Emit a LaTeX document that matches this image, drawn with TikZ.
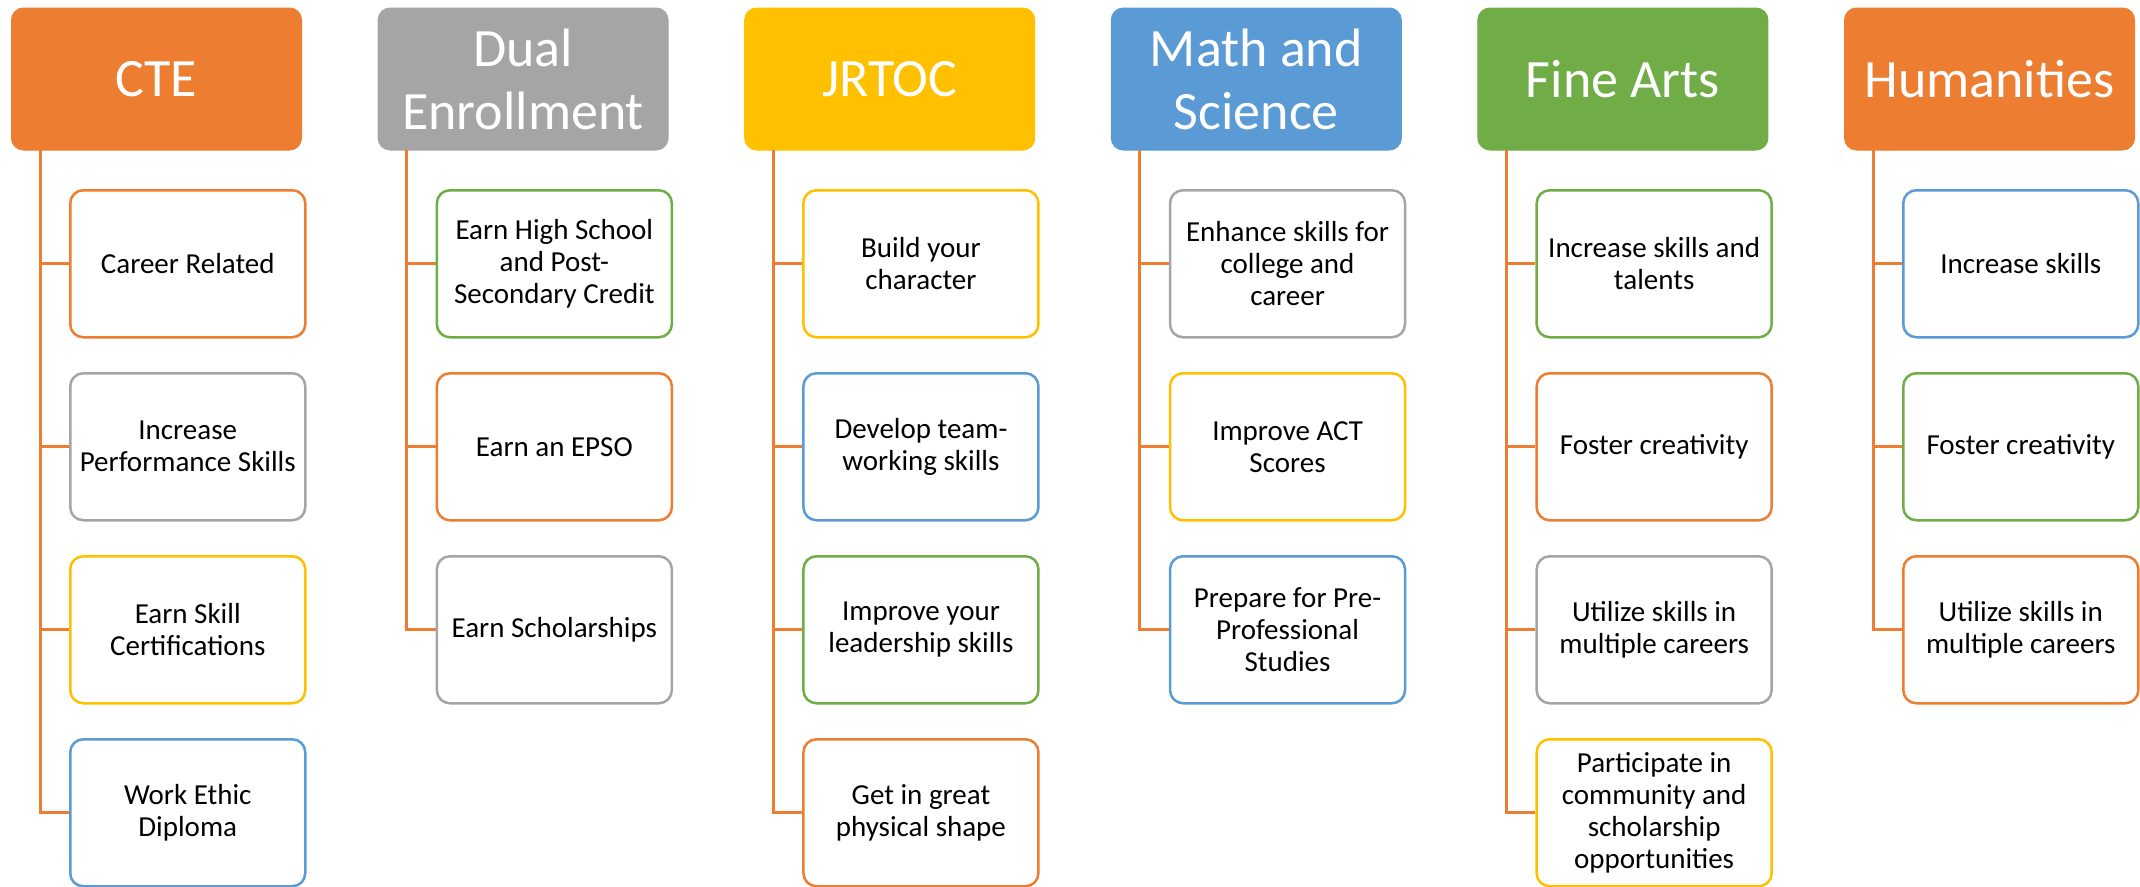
\documentclass[tikz,border=0pt]{standalone}
\usepackage{fontspec}
\setmainfont{Carlito}
\definecolor{corange}{HTML}{ED7D31}
\definecolor{cgray}{HTML}{A5A5A5}
\definecolor{cgold}{HTML}{FFC000}
\definecolor{cblue}{HTML}{5B9BD5}
\definecolor{cgreen}{HTML}{70AD47}
\begin{document}
\begin{tikzpicture}[x=1pt,y=-1pt,
  hdr/.style={fill=#1, draw=#1, line width=1pt, rounded corners=12pt, minimum width=290pt, minimum height=142pt, inner sep=0pt, anchor=north west, align=center, text=white, font=\fontsize{54}{63}\selectfont},
  item/.style={draw=#1, line width=2.5pt, fill=white, rounded corners=13pt, minimum width=235pt, minimum height=147pt, inner sep=0pt, anchor=north west, align=center, text=black, font=\fontsize{29}{32}\selectfont},
  conn/.style={draw=corange, line width=3pt}]
\useasboundingbox (0,0) rectangle (2140,886);

% headers
\node[hdr=corange] (h1) at (11,7.5) {CTE};
\node[hdr=cgray] (h2) at (377.6,7.5) {Dual\\Enrollment};
\node[hdr=cgold] (h3) at (744.2,7.5) {JRTOC};
\node[hdr=cblue] (h4) at (1110.8,7.5) {Math and\\Science};
\node[hdr=cgreen] (h5) at (1477.4,7.5) {Fine Arts};
\node[hdr=corange] (h6) at (1844,7.5) {Humanities};

% trunk start coordinates
\coordinate (t1) at (40,150);
\coordinate (t2) at (406.6,150);
\coordinate (t3) at (773.2,150);
\coordinate (t4) at (1139.8,150);
\coordinate (t5) at (1506.4,150);
\coordinate (t6) at (1873,150);

% CTE
\node[item=corange] (a1) at (69,189) {Career Related};
\node[item=cgray] (a2) at (69,372) {Increase\\Performance Skills};
\node[item=cgold] (a3) at (69,555) {Earn Skill\\Certifications};
\node[item=cblue] (a4) at (69,738) {Work Ethic\\Diploma};
% Dual
\node[item=cgreen] (b1) at (435.6,189) {Earn High School\\and Post-\\Secondary Credit};
\node[item=corange] (b2) at (435.6,372) {Earn an EPSO};
\node[item=cgray] (b3) at (435.6,555) {Earn Scholarships};
% JRTOC
\node[item=cgold] (c1) at (802.2,189) {Build your\\character};
\node[item=cblue] (c2) at (802.2,372) {Develop team-\\working skills};
\node[item=cgreen] (c3) at (802.2,555) {Improve your\\leadership skills};
\node[item=corange] (c4) at (802.2,738) {Get in great\\physical shape};
% Math
\node[item=cgray] (d1) at (1168.8,189) {Enhance skills for\\college and\\career};
\node[item=cgold] (d2) at (1168.8,372) {Improve ACT\\Scores};
\node[item=cblue] (d3) at (1168.8,555) {Prepare for Pre-\\Professional\\Studies};
% Fine Arts
\node[item=cgreen] (e1) at (1535.4,189) {Increase skills and\\talents};
\node[item=corange] (e2) at (1535.4,372) {Foster creativity};
\node[item=cgray] (e3) at (1535.4,555) {Utilize skills in\\multiple careers};
\node[item=cgold] (e4) at (1535.4,738) {Participate in\\community and\\scholarship\\opportunities};
% Humanities
\node[item=cblue] (f1) at (1902,189) {Increase skills};
\node[item=cgreen] (f2) at (1902,372) {Foster creativity};
\node[item=corange] (f3) at (1902,555) {Utilize skills in\\multiple careers};

% connectors
\foreach \n in {a1,a2,a3,a4} \draw[conn] (t1) |- (\n.west);
\foreach \n in {b1,b2,b3} \draw[conn] (t2) |- (\n.west);
\foreach \n in {c1,c2,c3,c4} \draw[conn] (t3) |- (\n.west);
\foreach \n in {d1,d2,d3} \draw[conn] (t4) |- (\n.west);
\foreach \n in {e1,e2,e3,e4} \draw[conn] (t5) |- (\n.west);
\foreach \n in {f1,f2,f3} \draw[conn] (t6) |- (\n.west);
\end{tikzpicture}
\end{document}
